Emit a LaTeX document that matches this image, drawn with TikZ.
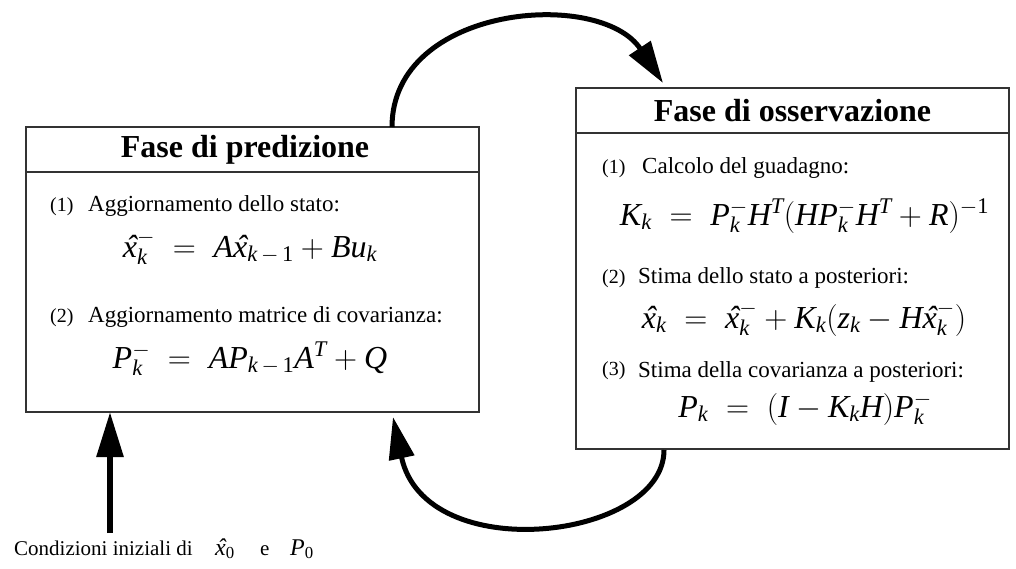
\RequirePackage{fix-cm}
\documentclass[tikz,border=0pt]{standalone}
\usepackage{fontspec}
\setmainfont{Liberation Serif}
\usetikzlibrary{arrows.meta}
\newcommand{\xh}{\mbox{\itshape\makebox[0pt][l]{\hspace{0.1em}\char"02C6}x}}
\tikzset{
  x=1pt, y=-1pt,
  boxline/.style={draw=black!80, line width=1.6pt, inner sep=0pt, fill=white},
  ttl/.style={font=\fontsize{32}{34}\selectfont\bfseries},
  txt/.style={font=\fontsize{23}{25}\selectfont, anchor=base west, inner sep=0pt},
  num/.style={font=\fontsize{20}{22}\selectfont, anchor=base west, inner sep=0pt},
  eq/.style={font=\fontsize{32}{34}\selectfont, anchor=base, inner sep=0pt},
  flow/.style={line width=5pt, -{Triangle[length=42pt,width=25pt]}},
}
\begin{document}
\begin{tikzpicture}
\useasboundingbox (0,0) rectangle (1016,568);
% left box
\node[boxline, minimum width=453pt, minimum height=45pt] (predT) at (252.5,149.5) {};
\node[ttl, inner sep=0pt] (predTt) at (245,149.5) {Fase di predizione};
\node[boxline, minimum width=453pt, minimum height=240pt] (predB) at (252.5,292) {};
\node[num] (p1n) at (50,211) {(1)};
\node[txt] (p1t) at (88,211) {Aggiornamento dello stato:};
\node[eq] (p1e) at (250,257) {$\mathit{\xh_k^{-}\;=\;A\xh_{k\,-\,\mathrm{1}}+Bu_k}$};
\node[num] (p2n) at (50,322) {(2)};
\node[txt] (p2t) at (88,322) {Aggiornamento matrice di covarianza:};
\node[eq] (p2e) at (250,368) {$\mathit{P_k^{-}\;=\;AP_{k\,-\,\mathrm{1}}A^T+Q}$};
% right box
\node[boxline, ttl, minimum width=433pt, minimum height=45pt] (obsT) at (792.5,110.5) {Fase di osservazione};
\node[boxline, minimum width=433pt, minimum height=316pt] (obsB) at (792.5,291) {};
\node[num] (o1n) at (602,173) {(1)};
\node[txt] (o1t) at (642,173) {Calcolo del guadagno:};
\node[eq] (o1e) at (804.5,225) {$\mathit{K_k\;=\;P_k^{-}H^T(HP_k^{-}H^T+R)^{-\mathrm{1}}}$};
\node[num] (o2n) at (602,283) {(2)};
\node[txt] (o2t) at (638,283) {Stima dello stato a posteriori:};
\node[eq] (o2e) at (804,328) {$\mathit{\xh_k\;=\;\xh_k^{-}+K_k(z_k-H\xh_k^{-})}$};
\node[num] (o3n) at (602,375) {(3)};
\node[txt] (o3t) at (638,377) {Stima della covarianza a posteriori:};
\node[eq] (o3e) at (805,417) {$\mathit{P_k\;=\;(I-K_kH)P_k^{-}}$};
% initial conditions
\node[num, font=\fontsize{21}{23}\selectfont] (ic) at (14,555) {Condizioni iniziali di};
\node[num, font=\fontsize{24}{26}\selectfont] (ix) at (215,555) {$\mathit{\xh_{\mathrm{0}}}$};
\node[num, font=\fontsize{21}{23}\selectfont] (ie) at (260,555) {e};
\node[num, font=\fontsize{24}{26}\selectfont] (ip) at (290,555) {$\mathit{P_{\mathrm{0}}}$};
% connectors
\coordinate (s1) at (392,127);
\coordinate (e1) at (663,83);
\coordinate (s2) at (664,450);
\coordinate (e2) at (393,417);
\coordinate (s3) at (110,533);
\coordinate (e3) at (110,412);
\draw[flow] (s1) .. controls (392,5) and (600,-12) .. (e1);
\draw[flow] (s2) .. controls (664,540) and (425,568) .. (e2);
\draw[line width=6pt, -{Triangle[length=45pt,width=26pt]}] (s3) -- (e3);
\end{tikzpicture}
\end{document}
